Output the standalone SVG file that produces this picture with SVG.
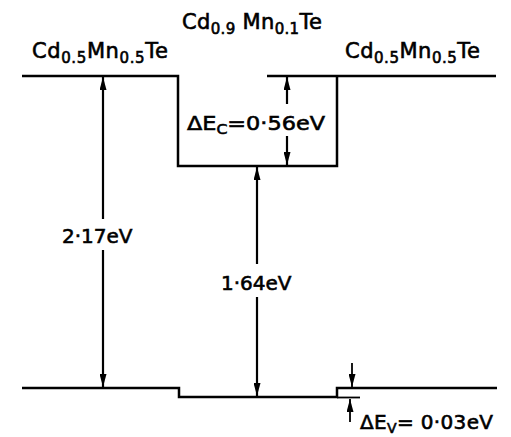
<svg xmlns="http://www.w3.org/2000/svg" width="511" height="437" viewBox="0 0 511 437">
<style>
.band{fill:none;stroke:#000;stroke-width:2.5;stroke-linejoin:miter}
.arr{fill:none;stroke:#000;stroke-width:2.2}
.thin{fill:none;stroke:#000;stroke-width:1.8}
text{font-family:"DejaVu Sans","Liberation Sans",sans-serif;font-size:20px;fill:#000;stroke:#000;stroke-width:0.6}
.title{font-size:21px}
.sub{font-size:15px}
.sub2{font-size:14px}
</style>
<defs>
<marker id="ah" viewBox="0 0 13 7" refX="13" refY="3.5" markerWidth="13" markerHeight="7" markerUnits="userSpaceOnUse" orient="auto">
<path d="M0,0 L13,3.5 L0,7 Z" fill="#000"/>
</marker>
</defs>
<rect width="511" height="437" fill="#fff"/>
<g id="conduction-band">
<path class="band" d="M22,76 H178 V166 H337 V76"/>
<path class="band" d="M267,76 H496"/>
</g>
<g id="valence-band">
<path class="band" d="M22,388 H179 V397 H337 V388 H497"/>
<path class="thin" d="M337,397.5 H360"/>
</g>
<g id="connectors">
<line class="arr" x1="103" y1="219" x2="103" y2="77" marker-end="url(#ah)"/>
<line class="arr" x1="103" y1="250" x2="103" y2="387" marker-end="url(#ah)"/>
<line class="arr" x1="257" y1="264" x2="257" y2="167" marker-end="url(#ah)"/>
<line class="arr" x1="257" y1="297" x2="257" y2="396" marker-end="url(#ah)"/>
<line class="arr" x1="287" y1="104" x2="287" y2="77" marker-end="url(#ah)"/>
<line class="arr" x1="287" y1="136" x2="287" y2="165" marker-end="url(#ah)"/>
<line class="thin" x1="352" y1="363" x2="352" y2="387" marker-end="url(#ah)"/>
<line class="thin" x1="350" y1="422" x2="350" y2="399" marker-end="url(#ah)"/>
</g>
<g id="label-left">
<text class="title" x="32" y="58" textLength="136" lengthAdjust="spacing">Cd<tspan class="sub" dy="5">0.5</tspan><tspan dy="-5">Mn</tspan><tspan class="sub" dy="5">0.5</tspan><tspan dy="-5">Te</tspan></text>
</g>
<g id="label-center">
<text class="title" x="182" y="29" textLength="140" lengthAdjust="spacing">Cd<tspan class="sub" dy="5">0.9</tspan><tspan dy="-5"> Mn</tspan><tspan class="sub" dy="5">0.1</tspan><tspan dy="-5">Te</tspan></text>
</g>
<g id="label-right">
<text class="title" x="345" y="58" textLength="135" lengthAdjust="spacing">Cd<tspan class="sub" dy="5">0.5</tspan><tspan dy="-5">Mn</tspan><tspan class="sub" dy="5">0.5</tspan><tspan dy="-5">Te</tspan></text>
</g>
<g id="label-217">
<text x="62" y="243">2·17eV</text>
</g>
<g id="label-164">
<text x="221" y="290">1·64eV</text>
</g>
<g id="label-dEc">
<text x="187" y="130" textLength="138" lengthAdjust="spacingAndGlyphs">ΔE<tspan class="sub2" dy="4">C</tspan><tspan dy="-4">=0·56eV</tspan></text>
</g>
<g id="label-dEv">
<text x="360" y="429" textLength="133" lengthAdjust="spacing">ΔE<tspan class="sub2" dy="4">V</tspan><tspan dy="-4">= 0·03eV</tspan></text>
</g>
</svg>
